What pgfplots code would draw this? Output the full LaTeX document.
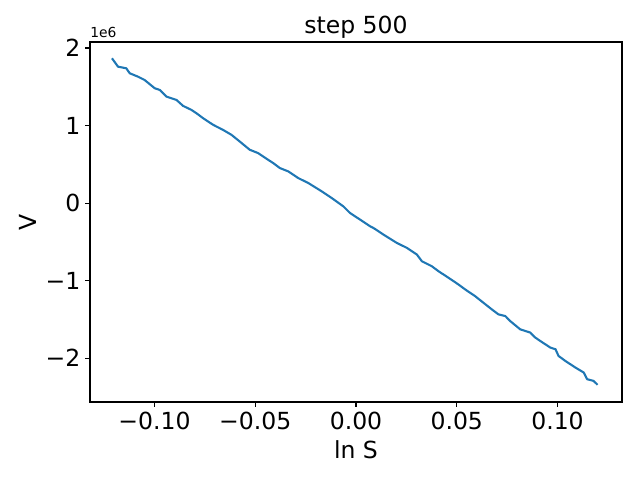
\documentclass[border=0pt]{standalone}
\usepackage{fontspec}
\setmainfont{DejaVu Sans}
\usepackage{pgfplots}
\pgfplotsset{compat=1.18}
\definecolor{mplblue}{HTML}{1F77B4}
\begin{document}
\begin{tikzpicture}
\path[use as bounding box] (-64.8bp,-56.16bp) rectangle (396bp,289.44bp);
\begin{axis}[
  scale only axis,
  width=383.04bp, height=259.2bp,
  xmin=-0.132, xmax=0.132,
  ymin=-2564000, ymax=2078000,
  xtick={-0.1,-0.05,0,0.05,0.1},
  xticklabels={−0.10,−0.05,0.00,0.05,0.10},
  ytick={-2000000,-1000000,0,1000000,2000000},
  yticklabels={−2,−1,0,1,2},
  scaled y ticks=false, scaled x ticks=false,
  tick align=outside, tick pos=left,
  major tick length=3.5bp,
  every tick/.style={black, line width=0.8bp},
  axis line style={line width=0.8bp},
  tick label style={font=\fontsize{17}{20}\selectfont},
  xlabel={ln S}, ylabel={V},
  xlabel style={yshift=-1.5bp},
  label style={font=\fontsize{17}{20}\selectfont},
  title={step 500},
  title style={font=\fontsize{17}{20}\selectfont, yshift=-7bp},
  clip=false,
]
\addplot[mplblue, line width=1.5bp] coordinates {
(-0.1211,1868000) (-0.1181,1760000) (-0.1140,1739000) (-0.1123,1675000)
(-0.1082,1631000) (-0.1049,1588000) (-0.0999,1482000) (-0.0974,1460000)
(-0.0941,1374000) (-0.0891,1331000) (-0.0858,1254000) (-0.0817,1203000)
(-0.0792,1160000) (-0.0759,1096000) (-0.0709,1010000) (-0.0660,945000)
(-0.0618,881000) (-0.0577,795000) (-0.0527,688000) (-0.0486,646000)
(-0.0436,559000) (-0.0411,517000) (-0.0378,453000) (-0.0336,409000)
(-0.0287,324000) (-0.0237,260000) (-0.0170,152000) (-0.0121,67000)
(-0.0063,-41000) (-0.0030,-126000) (0.0020,-212000) (0.0070,-298000)
(0.0086,-319000) (0.0136,-405000) (0.0202,-512000) (0.0252,-576000)
(0.0302,-662000) (0.0327,-749000) (0.0376,-813000) (0.0409,-877000)
(0.0459,-962000) (0.0508,-1048000) (0.0542,-1113000) (0.0591,-1199000)
(0.0622,-1263000) (0.0674,-1370000) (0.0707,-1434000) (0.0741,-1456000)
(0.0765,-1520000) (0.0815,-1627000) (0.0865,-1669000) (0.0890,-1734000)
(0.0915,-1778000) (0.0964,-1862000) (0.0990,-1884000) (0.1005,-1970000)
(0.1039,-2035000) (0.1089,-2120000) (0.1130,-2184000) (0.1147,-2270000)
(0.1179,-2292000) (0.1199,-2343000)
};
\node[anchor=south west, inner sep=0pt, font=\fontsize{10}{12}\selectfont] at (rel axis cs:0,1) [yshift=3bp] {1e6};
\end{axis}
\end{tikzpicture}
\end{document}
